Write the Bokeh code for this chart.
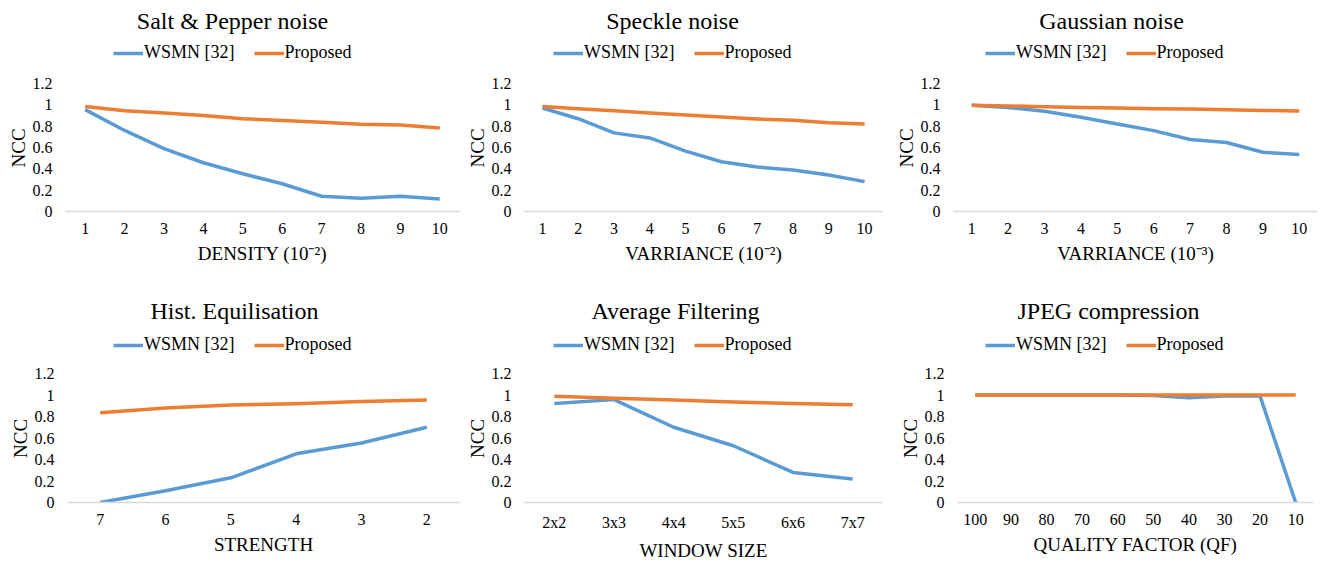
from bokeh.plotting import figure
from bokeh.models import (FactorRange, Range1d, FixedTicker, CustomJSTickFormatter,
                          Legend, LegendItem, Label, Title)
from bokeh.layouts import column, row
from bokeh.embed import file_html
from bokeh.resources import INLINE

# ---------------- data ----------------
num_cats = ["1", "2", "3", "4", "5", "6", "7", "8", "9", "10"]

sp_wsmn = [0.955, 0.76, 0.59, 0.457, 0.354, 0.26, 0.143, 0.124, 0.143, 0.118]
sp_prop = [0.985, 0.945, 0.923, 0.90, 0.87, 0.852, 0.836, 0.818, 0.811, 0.783]

speckle_wsmn = [0.97, 0.87, 0.737, 0.69, 0.566, 0.466, 0.417, 0.389, 0.342, 0.28]
speckle_prop = [0.985, 0.964, 0.945, 0.923, 0.905, 0.886, 0.867, 0.855, 0.833, 0.82]

gauss_wsmn = [0.995, 0.976, 0.939, 0.883, 0.82, 0.758, 0.675, 0.647, 0.556, 0.535]
gauss_prop = [0.995, 0.99, 0.982, 0.976, 0.97, 0.964, 0.96, 0.955, 0.948, 0.942]

hist_cats = ["7", "6", "5", "4", "3", "2"]
hist_wsmn = [0.0, 0.11, 0.23, 0.453, 0.553, 0.70]
hist_prop = [0.834, 0.88, 0.906, 0.919, 0.94, 0.953]

avg_cats = ["2x2", "3x3", "4x4", "5x5", "6x6", "7x7"]
avg_wsmn = [0.92, 0.957, 0.70, 0.528, 0.28, 0.219]
avg_prop = [0.988, 0.969, 0.953, 0.934, 0.92, 0.909]

jpeg_cats = ["100", "90", "80", "70", "60", "50", "40", "30", "20", "10"]
jpeg_wsmn = [1.0, 1.0, 1.0, 1.0, 1.0, 0.995, 0.975, 0.99, 0.99, 0.0]
jpeg_prop = [1.0, 1.0, 1.0, 1.0, 1.0, 1.0, 1.0, 1.0, 1.0, 1.0]

y_ticks = [0, 0.2, 0.4, 0.6, 0.8, 1, 1.2]
y_max = 1.2
y_label = "NCC"
series_names = ["WSMN [32]", "Proposed"]
colors = ["#5B9BD5", "#ED7D31"]

FONT = "Liberation Serif"


def make(title, cats, wsmn, prop, xlabel, width, height, left, right, bottom,
         px_per_range, title_px, title_dx, leg_x, leg_y):
    """px_per_range: pixel height of the 0..1.2 axis span; title_px: title centre
    height above the x axis (px); title_dx: horizontal shift of the title (px)."""
    top = 4
    frame_h = height - top - bottom
    y_end = frame_h * y_max / px_per_range
    p = figure(x_range=FactorRange(*cats), y_range=Range1d(0, y_end),
               width=width, height=height, output_backend="svg", toolbar_location=None,
               min_border_left=left, min_border_right=right,
               min_border_top=top, min_border_bottom=bottom)
    p.outline_line_color = None
    p.xgrid.visible = False
    p.ygrid.visible = False
    p.background_fill_color = "white"
    p.border_fill_color = "white"

    r1 = p.line(cats, wsmn, line_color=colors[0], line_width=3.5, line_join="round")
    r2 = p.line(cats, prop, line_color=colors[1], line_width=3.5, line_join="round")

    # chart title, centred over the whole chart area
    p.add_layout(Label(x=len(cats) / 2, y=title_px * y_max / px_per_range, text=title,
                       x_offset=title_dx,
                       text_align="center", text_baseline="middle",
                       text_font=FONT, text_font_size="24px", text_color="black"))

    leg = Legend(items=[LegendItem(label=series_names[0], renderers=[r1]),
                        LegendItem(label=series_names[1], renderers=[r2])],
                 orientation="horizontal", location=(leg_x, leg_y))
    leg.label_text_font = FONT
    leg.label_text_font_size = "18px"
    leg.label_text_color = "black"
    leg.label_height = 18
    leg.glyph_width = 30
    leg.glyph_height = 18
    leg.label_standoff = 1
    leg.spacing = 19
    leg.padding = 0
    leg.margin = 0
    leg.border_line_color = None
    leg.background_fill_alpha = 0
    p.add_layout(leg)

    ya = p.yaxis[0]
    ya.ticker = FixedTicker(ticks=y_ticks)
    ya.formatter = CustomJSTickFormatter(code="return tick.toString();")
    ya.axis_line_color = None
    ya.major_tick_line_color = None
    ya.minor_tick_line_color = None
    ya.major_tick_out = 0
    ya.major_tick_in = 0
    ya.minor_tick_out = 0
    ya.minor_tick_in = 0
    ya.major_label_standoff = 13
    ya.major_label_text_font = FONT
    ya.major_label_text_font_size = "16px"
    ya.major_label_text_color = "black"

    # y-axis title, centred on the 0..1.2 span (the frame reaches higher):
    # anchored at the frame bottom and lifted to the middle of the span
    ylab = Title(text=y_label, align="left", offset=px_per_range / 2 - 20,
                 standoff=2, text_font=FONT, text_font_size="19px",
                 text_font_style="normal", text_color="black")
    p.add_layout(ylab, "left")

    xa = p.xaxis[0]
    xa.axis_line_color = "#D9D9D9"
    xa.axis_line_width = 1.5
    xa.major_tick_line_color = None
    xa.minor_tick_line_color = None
    xa.major_tick_out = 0
    xa.major_tick_in = 0
    xa.minor_tick_out = 0
    xa.minor_tick_in = 0
    xa.major_label_standoff = 11
    xa.major_label_text_font = FONT
    xa.major_label_text_font_size = "16px"
    xa.major_label_text_color = "black"
    xa.axis_label = xlabel
    xa.axis_label_standoff = 6
    xa.axis_label_text_font = FONT
    xa.axis_label_text_font_size = "19px"
    xa.axis_label_text_font_style = "normal"
    xa.axis_label_text_color = "black"
    return p


p1 = make("Salt & Pepper noise", num_cats, sp_wsmn, sp_prop, "DENSITY (10\u207b\u00b2)",
          462, 282, 65, 3, 71, 128, 191, -30, 48, 148)
p2 = make("Speckle noise", num_cats, speckle_wsmn, speckle_prop, "VARRIANCE (10\u207b\u00b2)",
          426, 282, 62, 6, 71, 128, 191, -31, 29, 148)
p3 = make("Gaussian noise", num_cats, gauss_wsmn, gauss_prop, "VARRIANCE (10\u207b\u00b3)",
          434, 282, 65, 5, 71, 128, 191, -24, 32, 148)
p4 = make("Hist. Equilisation", hist_cats, hist_wsmn, hist_prop, "STRENGTH",
          462, 283, 67, 3, 63, 129, 192, -29, 46, 147)
p5 = make("Average Filtering", avg_cats, avg_wsmn, avg_prop, "WINDOW SIZE",
          426, 283, 62, 6, 63, 129, 192, -28, 29, 147)
p6 = make("JPEG compression", jpeg_cats, jpeg_wsmn, jpeg_prop, "QUALITY FACTOR (QF)",
          434, 283, 69, 9, 63, 129, 192, -27, 28, 147)

layout = column(row(p1, p2, p3), row(p4, p5, p6))

open("out.html", "w").write(file_html(layout, INLINE))
